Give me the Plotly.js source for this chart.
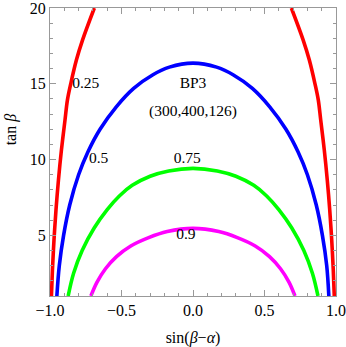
<!DOCTYPE html>
<html>
<head>
<meta charset="utf-8">
<script src="https://cdn.plot.ly/plotly-3.0.1.min.js"></script>
<style>html,body{margin:0;padding:0;background:#fff;}#plot{width:346px;height:347px;}</style>
</head>
<body>
<div id="plot"></div>
<script>
// Contour 0.25 (red), two separate branches
const redLeftX  = [-0.990, -0.983, -0.972, -0.958, -0.941, -0.920, -0.895, -0.878, -0.855, -0.815, -0.772, -0.690];
const redLeftY  = [1, 2.7, 4.7, 6.7, 8.65, 10.64, 12.62, 13.94, 15.0, 16.58, 17.9, 20];
const redRightX = [0.988, 0.981, 0.970, 0.956, 0.939, 0.918, 0.893, 0.876, 0.853, 0.813, 0.770, 0.688];
const redRightY = [1, 2.7, 4.7, 6.7, 8.65, 10.64, 12.62, 13.94, 15.0, 16.58, 17.9, 20];
// Contour 0.5 (blue)
const blueX = [-0.952, -0.935, -0.905, -0.862, -0.800, -0.735, -0.650, -0.535, -0.415, -0.280, -0.165, 0, 0.165, 0.280, 0.415, 0.535, 0.650, 0.735, 0.800, 0.862, 0.905, 0.935, 0.950];
const blueY = [1, 3, 5, 7, 9, 10.5, 12, 13.5, 14.7, 15.6, 16.1, 16.36, 16.1, 15.6, 14.7, 13.5, 12, 10.5, 9, 7, 5, 3, 1];
// Contour 0.75 (green)
const greenX = [-0.873, -0.835, -0.775, -0.690, -0.600, -0.515, -0.425, -0.300, -0.170, 0, 0.170, 0.300, 0.425, 0.515, 0.600, 0.690, 0.775, 0.835, 0.874];
const greenY = [1, 2.5, 4, 5.5, 6.7, 7.6, 8.3, 8.9, 9.25, 9.42, 9.25, 8.9, 8.3, 7.6, 6.7, 5.5, 4, 2.5, 1];
// Contour 0.9 (magenta)
const magX = [-0.714, -0.672, -0.612, -0.535, -0.435, -0.310, -0.180, 0, 0.180, 0.310, 0.435, 0.535, 0.612, 0.672, 0.713];
const magY = [1, 1.9, 2.8, 3.6, 4.3, 4.85, 5.25, 5.46, 5.25, 4.85, 4.3, 3.6, 2.8, 1.9, 1];

const xTickVals = [-1.0, -0.5, 0.0, 0.5, 1.0];
const xTickText = ["\u22121.0", "\u22120.5", "0.0", "0.5", "1.0"];
const yTickVals = [5, 10, 15, 20];

const labelX = [-0.75, 0, 0, -0.66, -0.04, -0.05];
const labelY = [15.0, 15.0, 13.1, 10.0, 10.0, 5.0];
const labelText = ["0.25", "BP3", "(300,400,126)", "0.5", "0.75", "0.9"];

const W = 3.6;
const traces = [
  {x: redLeftX, y: redLeftY, mode: 'lines', line: {color: '#ff0000', width: W, shape: 'spline', smoothing: 1}},
  {x: redRightX, y: redRightY, mode: 'lines', line: {color: '#ff0000', width: W, shape: 'spline', smoothing: 1}},
  {x: blueX, y: blueY, mode: 'lines', line: {color: '#0000ff', width: W, shape: 'spline', smoothing: 1}},
  {x: greenX, y: greenY, mode: 'lines', line: {color: '#00ff00', width: W, shape: 'spline', smoothing: 1}},
  {x: magX, y: magY, mode: 'lines', line: {color: '#ff00ff', width: W, shape: 'spline', smoothing: 1}},
  {x: labelX, y: labelY, mode: 'text', text: labelText, textposition: 'middle center',
   textfont: {family: 'Liberation Serif', size: 15.5, color: '#000'}, cliponaxis: false}
];

const font = {family: 'Liberation Serif', size: 16, color: '#000'};
const layout = {
  width: 346, height: 347,
  margin: {l: 50, r: 10, t: 8, b: 51},
  showlegend: false,
  paper_bgcolor: '#fff', plot_bgcolor: '#fff',
  font: font,
  xaxis: {
    range: [-1, 1], tickvals: xTickVals, ticktext: xTickText,
    ticks: 'inside', ticklen: 6, tickwidth: 1, tickcolor: '#999',
    showline: true, linecolor: '#999', linewidth: 1, mirror: 'allticks',
    showgrid: false, zeroline: false, tickfont: font, ticklabeloverflow: 'allow',
    minor: {dtick: 0.1, tick0: 0, ticks: 'inside', ticklen: 3, tickcolor: '#999', showgrid: false},
    title: {text: 'sin(<i>β</i>\u2212<i>α</i>)', font: font, standoff: 20}
  },
  yaxis: {
    range: [1, 20], tickvals: yTickVals,
    ticks: 'inside', ticklen: 6, tickwidth: 1, tickcolor: '#999',
    showline: true, linecolor: '#999', linewidth: 1, mirror: 'allticks',
    showgrid: false, zeroline: false, tickfont: font, ticklabeloverflow: 'allow',
    minor: {dtick: 1, tick0: 0, ticks: 'inside', ticklen: 3, tickcolor: '#999', showgrid: false}
  },
  annotations: [{
    text: 'tan <i>β</i>', xref: 'paper', yref: 'paper', x: -0.135, y: 0.58,
    xanchor: 'center', yanchor: 'middle', textangle: -90, showarrow: false, font: font
  }]
};
Plotly.newPlot('plot', traces, layout, {displayModeBar: false, staticPlot: true});
</script>
</body>
</html>
